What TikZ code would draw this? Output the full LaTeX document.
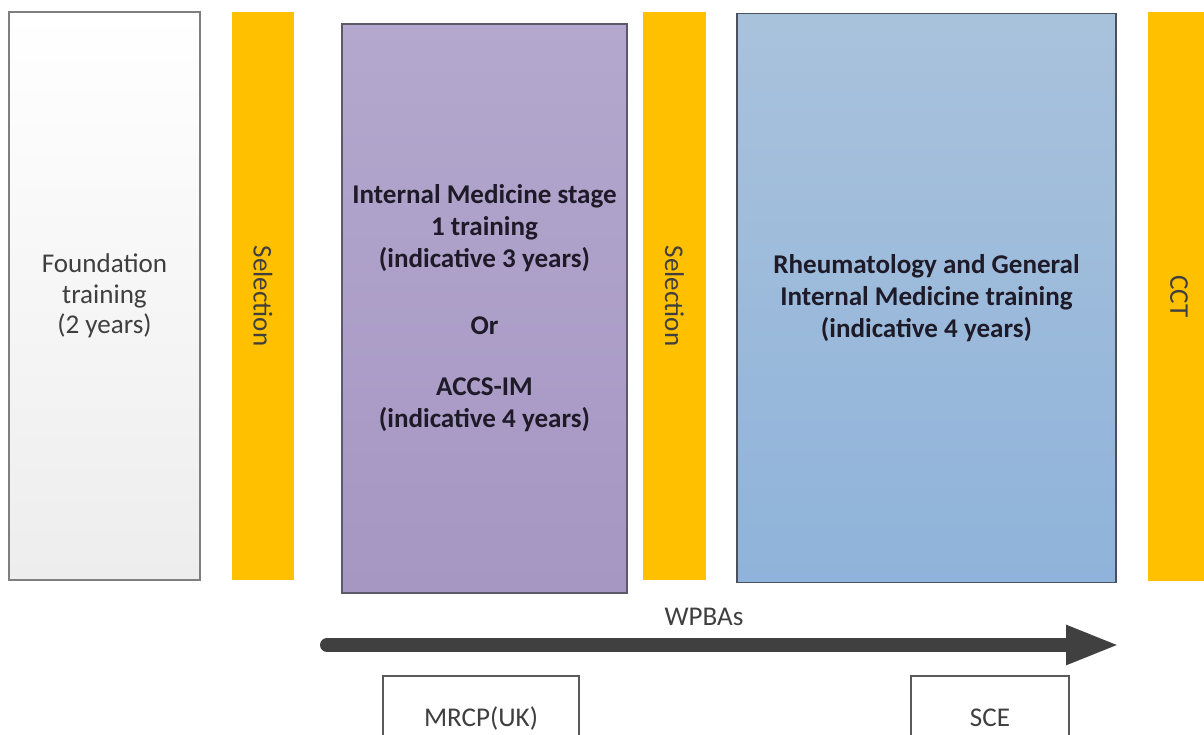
\documentclass[tikz,border=0pt]{standalone}
\usepackage{fontspec}
\setmainfont{Carlito}
\usetikzlibrary{arrows.meta}
\definecolor{selorange}{HTML}{FFC000}
\definecolor{fgraybot}{HTML}{EDEDED}
\definecolor{fborder}{HTML}{7F7F7F}
\definecolor{purtop}{HTML}{B4A8CE}
\definecolor{purbot}{HTML}{A596C2}
\definecolor{purborder}{HTML}{5C5A68}
\definecolor{bluetop}{HTML}{A9C2DC}
\definecolor{bluebot}{HTML}{8FB3DA}
\definecolor{blueborder}{HTML}{4A505E}
\definecolor{arrowgray}{HTML}{404040}
\definecolor{txtgray}{HTML}{3F3F3F}
\definecolor{txtdark}{HTML}{1E1A28}
\definecolor{examborder}{HTML}{595959}
\begin{document}
\begin{tikzpicture}[x=0.75pt,y=-0.75pt,
  txt/.style={font=\fontsize{20.3}{23}\selectfont, align=center},
  boldtxt/.style={font=\fontsize{20.3}{24}\selectfont\bfseries, align=center, text=txtdark},
  panel/.style={rectangle, inner sep=0pt, line width=1.1pt},
  selbar/.style={rectangle, inner sep=0pt, fill=selorange, minimum width=46.5pt, minimum height=426pt},
  bartext/.style={txt, rotate=-90, text=txtgray},
  exam/.style={rectangle, inner sep=0pt, draw=examborder, line width=0.9pt, fill=white, minimum height=63pt, txt, text=txtgray},
  wpba/.style={-{Triangle[length=40.5pt,width=27pt]}, line width=10.5pt, line cap=round, draw=arrowgray}
]
\useasboundingbox (0,0) rectangle (1204,735);
\clip (0,0) rectangle (1204,735);

% Foundation
\node[panel, txt, text=txtgray, draw=fborder, top color=white, bottom color=fgraybot,
      minimum width=143.25pt, minimum height=426pt] (found) at (104.5,296)
      {Foundation\\training\\(2 years)};

% Selection bars
\node[selbar] (sel1) at (263,296) {};
\node[bartext] (sel1t) at (sel1.center) {Selection};

% Purple
\node[panel, boldtxt, draw=purborder, top color=purtop, bottom color=purbot,
      minimum width=213.75pt, minimum height=426.75pt] (im) at (484.5,308.5)
      {Internal Medicine stage\\1 training\\(indicative 3 years)\\[26pt]Or\\[22pt]ACCS-IM\\(indicative 4 years)};

\node[selbar, minimum width=47.25pt] (sel2) at (674.5,296) {};
\node[bartext] (sel2t) at (sel2.center) {Selection};

% Blue
\node[panel, boldtxt, draw=blueborder, top color=bluetop, bottom color=bluebot,
      minimum width=284.25pt, minimum height=426.75pt] (rheum) at (926.5,298)
      {Rheumatology and General\\Internal Medicine training\\(indicative 4 years)};

% CCT
\node[selbar, minimum width=46.5pt, minimum height=426.75pt] (cct) at (1179,296.5) {};
\node[bartext] (cctt) at (cct.center) {CCT};

% WPBA arrow
\coordinate (wstart) at (327,645);
\coordinate (wend) at (1120,645);
\draw[wpba] (wstart) -- (wend);
\node[txt, text=txtgray] (wpbat) at (704,617) {WPBAs};

% Exams
\node[exam, minimum width=147pt] (mrcp) at (481,718) {MRCP(UK)};
\node[exam, minimum width=118.5pt] (sce) at (990,718) {SCE};
\end{tikzpicture}
\end{document}
